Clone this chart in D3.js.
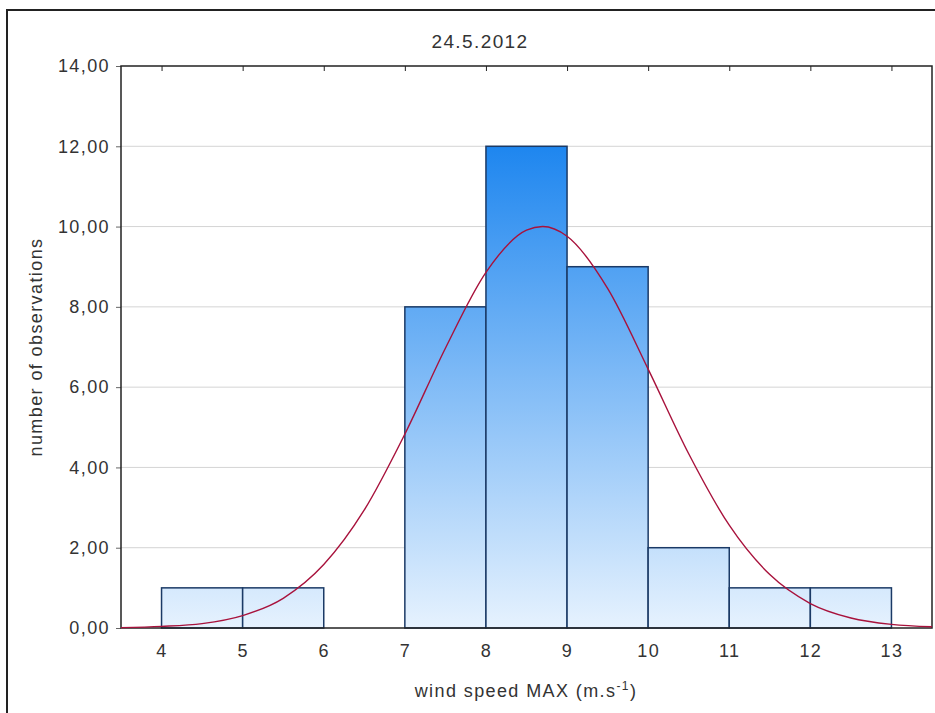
<!DOCTYPE html>
<html>
<head>
<meta charset="utf-8">
<script src="https://cdn.jsdelivr.net/npm/d3@7"></script>
<style>
  body { margin: 0; background: #fff; }
  text { font-family: "Liberation Sans", Arial, sans-serif; fill: #333; }
</style>
</head>
<body>
<div id="chart"></div>
<script>
// histogram bins (lower edge, upper edge) and counts
var binStart = [4, 5, 6, 7, 8, 9, 10, 11, 12];
var binEnd = [5, 6, 7, 8, 9, 10, 11, 12, 13];
var counts = [1, 1, 0, 8, 12, 9, 2, 1, 1];

// expected normal curve
var curveX = [3.5, 4, 4.5, 5, 5.5, 6, 6.5, 7, 7.5, 8, 8.5, 8.7, 9, 9.5, 10, 10.5, 11, 11.5, 12, 12.5, 13, 13.5];
var curveY = [0.01, 0.04, 0.11, 0.31, 0.74, 1.58, 2.94, 4.83, 6.97, 8.86, 9.91, 10, 9.76, 8.46, 6.45, 4.34, 2.56, 1.33, 0.61, 0.25, 0.09, 0.03];

var xTicks = [4, 5, 6, 7, 8, 9, 10, 11, 12, 13];
var yTicks = [0, 2, 4, 6, 8, 10, 12, 14];

var title = "24.5.2012";
var yLabel = "number of observations";

// set the dimensions and margins of the graph
var margin = { top: 66, right: 3, bottom: 85, left: 121 },
  width = 935 - margin.left - margin.right,
  height = 713 - margin.top - margin.bottom;

var root = d3
  .select("#chart")
  .append("svg")
  .attr("width", 935)
  .attr("height", 713);

// outer frame
root
  .append("rect")
  .attr("x", 7)
  .attr("y", 10)
  .attr("width", 940)
  .attr("height", 720)
  .style("fill", "none")
  .style("stroke", "#222")
  .style("stroke-width", 2);

var svg = root
  .append("g")
  .attr("transform", "translate(" + margin.left + "," + margin.top + ")");

var x = d3.scaleLinear().domain([3.5, 13.5]).range([0, width]);
var y = d3.scaleLinear().domain([0, 14]).range([height, 0]);

// bar gradient, shared across the plot height
var grad = root
  .append("defs")
  .append("linearGradient")
  .attr("id", "barFill")
  .attr("gradientUnits", "userSpaceOnUse")
  .attr("x1", 0)
  .attr("x2", 0)
  .attr("y1", y(12))
  .attr("y2", y(0));
grad.append("stop").attr("offset", "0%").attr("stop-color", "#1e86ef");
grad.append("stop").attr("offset", "100%").attr("stop-color", "#e6f2fe");

// gridlines
svg
  .selectAll("grid")
  .data(yTicks.filter(function (d) { return d > 0 && d < 14; }))
  .enter()
  .append("line")
  .attr("x1", 0)
  .attr("x2", width)
  .attr("y1", function (d) { return y(d); })
  .attr("y2", function (d) { return y(d); })
  .style("stroke", "#d4d4d4")
  .style("stroke-width", 1);

// bars (skip empty bins)
var binIdx = d3.range(counts.length).filter(function (i) { return counts[i] > 0; });

svg
  .selectAll("bar")
  .data(binIdx)
  .enter()
  .append("rect")
  .attr("x", function (i) { return x(binStart[i]); })
  .attr("width", function (i) { return x(binEnd[i]) - x(binStart[i]); })
  .attr("y", function (i) { return y(counts[i]); })
  .attr("height", function (i) { return y(0) - y(counts[i]); })
  .style("fill", "url(#barFill)")
  .style("stroke", "#1b3a66")
  .style("stroke-width", 1.5);

// y axis
var yAxis = svg
  .append("g")
  .call(
    d3.axisLeft(y)
      .tickValues(yTicks)
      .tickSize(5)
      .tickPadding(6)
      .tickFormat(function (d) { return d3.format(".2f")(d).replace(".", ","); })
  );
yAxis.select(".domain").remove();
yAxis.selectAll("line").style("stroke", "#666");
yAxis
  .selectAll("text")
  .style("font-size", "18px")
  .style("letter-spacing", "1.4px")
  .style("fill", "#333");

// x axis labels
var xAxis = svg
  .append("g")
  .attr("transform", "translate(0," + height + ")")
  .call(d3.axisBottom(x).tickValues(xTicks).tickSize(0).tickPadding(16));
xAxis.select(".domain").remove();
xAxis
  .selectAll("text")
  .style("font-size", "18px")
  .style("letter-spacing", "1.4px")
  .style("fill", "#333");

// top ticks pointing inside
svg
  .append("g")
  .call(d3.axisTop(x).tickValues(xTicks).tickSize(-5).tickFormat(""))
  .call(function (g) { g.select(".domain").remove(); })
  .selectAll("line")
  .style("stroke", "#222");

// plot frame
svg
  .append("rect")
  .attr("width", width)
  .attr("height", height)
  .style("fill", "none")
  .style("stroke", "#222")
  .style("stroke-width", 1.5);

// normal curve
var line = d3
  .line()
  .x(function (d, i) { return x(curveX[i]); })
  .y(function (d) { return y(d); })
  .curve(d3.curveMonotoneX);

svg
  .append("path")
  .datum(curveY)
  .attr("d", line)
  .style("fill", "none")
  .style("stroke", "#a8123c")
  .style("stroke-width", 1.4);

// title
root
  .append("text")
  .attr("x", 480)
  .attr("y", 48)
  .attr("text-anchor", "middle")
  .style("font-size", "19px")
  .style("letter-spacing", "1.4px")
  .text(title);

// y label
root
  .append("text")
  .attr("transform", "translate(42," + (margin.top + height / 2) + ") rotate(-90)")
  .attr("text-anchor", "middle")
  .style("font-size", "18px")
  .style("letter-spacing", "1.4px")
  .text(yLabel);

// x label with superscript
var xl = root
  .append("text")
  .attr("x", 526)
  .attr("y", 697)
  .attr("text-anchor", "middle")
  .style("font-size", "18px")
  .style("letter-spacing", "1.4px");
xl.append("tspan").text("wind speed MAX (m.s");
xl.append("tspan").attr("dy", -7).style("font-size", "12px").text("-1");
xl.append("tspan").attr("dy", 7).text(")");
</script>
</body>
</html>
